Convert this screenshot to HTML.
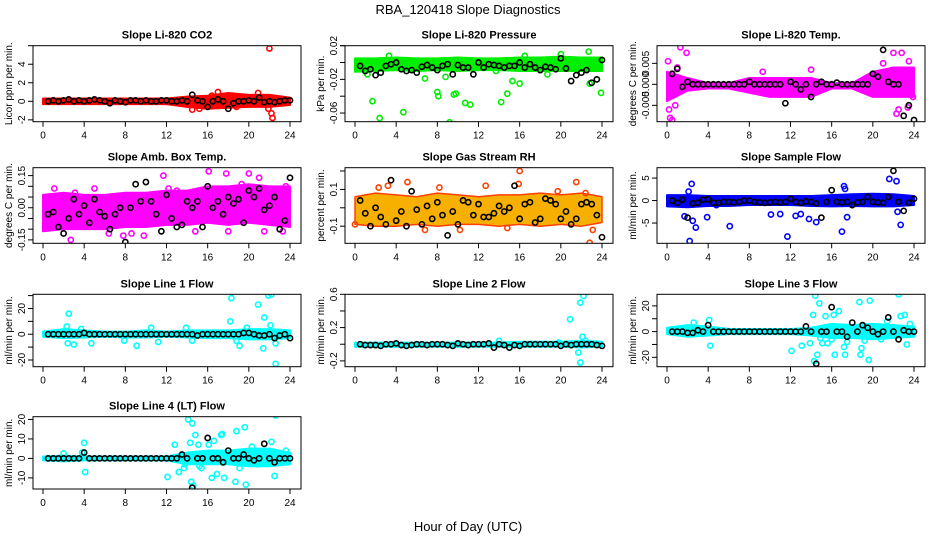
<!DOCTYPE html>
<html><head><meta charset="utf-8"><style>
body{margin:0;background:#fff}
svg text{font-family:"Liberation Sans",sans-serif}
</style></head><body>
<svg id="c" width="936" height="540" xmlns="http://www.w3.org/2000/svg">
<text x="468" y="14" text-anchor="middle" font-size="13">RBA_120418  Slope Diagnostics</text>
<text x="468" y="531" text-anchor="middle" font-size="13">Hour of Day (UTC)</text>
</svg>
<script>
const xTicks=[0,4,8,12,16,20,24];
const blackX=[0.5,1,1.5,2,2.5,3,3.5,4,4.5,5,5.5,6,6.5,7,7.5,8,8.5,9,9.5,10,10.5,11,11.5,12,12.5,13,13.5,14,14.5,15,15.5,16,16.5,17,17.5,18,18.5,19,19.5,20,20.5,21,21.5,22,22.5,23,23.5,24];
const titles=["Slope Li-820 CO2","Slope Li-820 Pressure","Slope Li-820 Temp.","Slope Amb. Box Temp.","Slope Gas Stream RH","Slope Sample Flow","Slope Line 1 Flow","Slope Line 2 Flow","Slope Line 3 Flow","Slope Line 4 (LT) Flow"];
const yLabels=["Licor ppm per min.","kPa per min.","degrees C per min.","degrees C per min.","percent per min.","ml/min per min.","ml/min per min.","ml/min per min.","ml/min per min.","ml/min per min."];
const yLims=[[-2.2,6],[-0.0703,0.02],[-0.0089,0.0092],[-0.166,0.187],[-0.193,0.218],[-9.5,7.3],[-25.2,31],[-0.27,0.6],[-27.3,29],[-15.7,21.4]];
const yTickVals=[[-2,0,2,4],[-0.06,-0.02,0.02],[-0.005,0,0.005],[-0.15,0,0.15],[-0.1,0.1],[-5,0,5],[-20,0,20],[-0.2,0.2,0.6],[-20,0,20],[-10,0,10,20]];
const yTickLabels=[["-2","0","2","4"],["-0.06","-0.02","0.02"],["-0.005","0.000","0.005"],["-0.15","0.00","0.15"],["-0.1","0.1"],["-5","0","5"],["-20","0","20"],["-0.2","0.2","0.6"],["-20","0","20"],["-10","0","10","20"]];
const minorTicks=[[6],[-0.04,0,0.02],[],[-0.1,-0.05,0.05,0.1],[0,0.2],[],[-10,10,30],[0,0.4],[-10,10],[]];
const seriesColor=["#ff0000","#00ee00","#ff00ff","#ff00ff","#f7b000","#0000ff","#00ffff","#00ffff","#00ffff","#00ffff"];
const bandLo=[
[-0.3,-0.3,-0.3,-0.3,-0.3,-0.3,-0.3,-0.6,-0.8,-0.7,-0.6,-0.6,-0.4],
[-0.011,-0.01,-0.009,-0.01,-0.009,-0.01,-0.009,-0.009,-0.01,-0.01,-0.01,-0.01,-0.01],
[-0.004,-0.0015,-0.001,-0.001,-0.002,-0.003,-0.003,-0.003,-0.001,-0.001,-0.003,-0.003,-0.003],
[-0.11,-0.1,-0.1,-0.1,-0.09,-0.09,-0.08,-0.08,-0.07,-0.08,-0.07,-0.08,-0.09],
[-0.09,-0.1,-0.1,-0.09,-0.1,-0.09,-0.09,-0.1,-0.09,-0.1,-0.09,-0.1,-0.08],
[-1.3,-1.5,-1.2,-1.2,-1,-1,-1,-1.2,-1.3,-1.2,-1.3,-1.3,-1],
[-2,-3,-2.5,-2,-2.5,-2.5,-2,-2.5,-3,-3,-4,-4,-3],
[-0.03,-0.03,-0.03,-0.03,-0.03,-0.03,-0.03,-0.03,-0.03,-0.03,-0.03,-0.04,-0.03],
[-2,-4,-3,-2,-2,-2,-2,-3,-5,-5,-6,-5,-4],
[-1,-1.5,-1,-1,-1,-1,-1,-3,-3,-3,-4,-4,-3]];
const bandHi=[
[0.3,0.3,0.3,0.3,0.3,0.3,0.3,0.5,0.6,0.9,0.7,0.7,0.4],
[0.005,0.005,0.006,0.005,0.005,0.006,0.005,0.005,0.006,0.006,0.007,0.006,0.006],
[0.003,0.0015,0.0003,0.0003,0.0015,0.0015,0.0015,0.0015,0.0003,0.0003,0.003,0.004,0.004],
[0.06,0.07,0.06,0.06,0.07,0.07,0.08,0.08,0.1,0.1,0.11,0.1,0.1],
[0.06,0.08,0.07,0.06,0.08,0.07,0.06,0.07,0.07,0.08,0.07,0.08,0.06],
[1.2,1.2,1,1,1,1,1,1,1.2,1.4,1.5,1.4,1],
[2,4,3,2,2,3,2,3,3,3,4,4,3],
[0.02,0.02,0.02,0.02,0.02,0.02,0.02,0.02,0.03,0.03,0.03,0.04,0.03],
[3,5,4,2,2,2,2,3,6,5,6,5,4],
[1,1.5,1,1,1,1,1,3,4,4,5,5,3]];
const outX=[
[22,22.2,22.3,21.9,14.5,17,15.2,18.8,20.9,16.4],
[1.7,2.4,4.7,6.8,8,8.1,8.8,9.2,9.6,9.8,10.7,11.2,14.2,14.8,15.3,16,22.8,23.9,3.3,22.7,16.5,1.2,13.7,18.7,23.5,20],
[0.3,0.5,0.2,0.1,1.3,1.9,22,22.8,22.3,23.4,23.9,14,9.3,0.8,21,23.5,1,22.5],
[2.7,7.8,9.8,11.7,16.1,17.8,20,1.1,14.8,21.5,23.3,3.1,12.2,13,19.3,21,6.4,8.6,18,23.6,0.2,5],
[16,15.9,21.5,22.8,23.1,3.2,5.1,0,2.3,8.2,12.7,19.7,22.4,14.8,6.8,10.2],
[1.7,2.1,2.4,2.5,2.8,2.2,3.9,4.8,6.1,10.1,11,11.7,12.5,13,13.8,14.5,17,17.2,17.3,17.5,21.6,22.3,22.7,22.4],
[2.5,2.4,3,2.3,4.7,7.9,9.1,10.5,11.2,13.9,18.3,18.2,19.1,20.9,21.5,21.9,22.2,21.4,22.6,22.1,22.6,18.8,14.5,3.7,19.8],
[20.9,21.9,22.2,22.1,21.7,21.9,22.4,14,19.8],
[2.6,4.1,4.2,12.1,13.1,13.9,14.2,14.4,14.6,14.3,14.8,14.9,15.4,15.6,16.2,16.3,16.7,17.2,17.3,17.5,18.7,18.8,18.9,19.7,19.6,21.4,22.5,22.7,23.1,23.3,23.6,20.8,19.2,16,15.1],
[4,4.1,3.8,12.1,12.8,13.2,13.7,14.1,14.4,14.5,14.6,14.8,14.3,15.1,15.4,16.1,16.4,16.6,16.9,17.3,17.6,17.4,18.7,18.8,19.1,19.6,19.7,20.3,20.8,22.2,22.6,22.5,23.6,15.2,13.8,2]];
const outY=[
[5.7,-1.3,-1.8,-0.8,-0.9,1.0,-0.8,-0.6,0.9,0.6],
[-0.046,-0.066,-0.059,-0.019,-0.035,-0.04,-0.017,-0.071,-0.038,-0.037,-0.048,-0.05,-0.047,-0.037,-0.022,-0.025,-0.025,-0.036,0.008,0.013,0.008,-0.014,-0.01,-0.014,-0.02,0.01],
[-0.008,-0.0085,-0.006,0.0055,0.0088,0.0075,0.0075,0.0075,-0.007,-0.0055,-0.003,0.0035,0.003,-0.005,0.005,0.0055,0.004,-0.006],
[-0.15,-0.13,-0.13,0.15,0.17,0.16,0.16,0.09,-0.11,-0.11,-0.11,0.07,0.09,0.08,0.11,0.14,-0.12,-0.12,-0.11,0.1,-0.09,0.09],
[0.2,0.13,0.14,-0.19,-0.12,0.12,0.14,-0.09,0.11,0.11,0.12,0.09,0.08,-0.11,-0.12,-0.12],
[-3.5,2,3.7,-4.5,-6,-9,-3.7,-1,-5.7,-3.1,-3,-8,-3.4,-3,-4.1,-4.8,-6.9,3.2,2.6,-3.7,4.8,4.3,-5.4,-2.5],
[16,-7,-8,6,-7,-5,-9,5,-6,5,28,10,-9,23,13,30,31,-11,-23,7,-7,-5,-5,4,5],
[0.3,0.5,0.58,0.09,-0.1,-0.22,0.04,0.04,0.02],
[7,9,-11,-15,-11,-9,13,28,-18,-23,22,-5,12,-9,13,-18,16,-12,-18,-8,23,-18,-13,24,-22,8,29,12,13,-10,6,-6,-7,-6,-9],
[8,-7,3,-9.5,7,-7,-5,20,-12,18,-14,12,8,7,-5,7,-10,9,-8,12,-10,12.5,-12,14,-5,16,-13.5,6,-3,8.5,22,-9,4,-4,-3,2.5]];
const blackY=[
[0,0.1,0,0.1,0.2,0,0.1,0,0.1,0.2,0.1,0,-0.2,0.1,0,-0.1,0.1,0.1,0,0.1,0,0,0.1,0.1,0,0,0.1,0,0.7,0.1,0,-0.6,0,0.2,0,-0.8,-0.2,0,0,0.1,0,0.4,-0.1,0,-0.1,0,0.1,0.1],
[-0.004,-0.01,-0.008,-0.015,-0.012,-0.004,-0.002,0,-0.008,-0.01,-0.009,-0.012,-0.005,-0.003,-0.006,-0.009,-0.004,-0.002,-0.014,-0.003,-0.006,-0.006,-0.014,0,-0.006,-0.002,-0.003,-0.004,-0.006,-0.004,-0.004,0,-0.006,-0.002,-0.006,-0.009,-0.005,-0.006,-0.008,0.005,-0.007,-0.022,-0.015,-0.012,-0.009,-0.024,-0.02,0.003],
[0.0025,0.0037,-0.0006,0.0006,0,0,0,0,0,0,0,0,0,0,0,0.0006,0,0,0,0,0,0,-0.0045,0.0006,0,-0.0012,0,-0.003,0,0.0006,0,0,0.0004,0,0,0,0,0,0,0.0025,0.0018,0.0082,0.0006,0,0,-0.0075,-0.005,-0.0085],
[-0.03,-0.02,-0.09,-0.12,-0.05,0.04,-0.03,0.01,-0.07,0.04,-0.02,-0.04,-0.1,-0.03,0,-0.16,0,0.11,0.03,0.12,0.03,-0.03,-0.11,0.06,-0.05,-0.09,-0.08,0.03,0,0.03,-0.09,0.1,0,0.03,-0.03,0.05,0.02,0.04,-0.07,0.08,0.05,0.09,-0.01,0.01,0.05,-0.1,-0.06,0.14],
[0.04,-0.03,-0.1,0,-0.05,-0.09,0.15,-0.07,-0.02,-0.1,0.09,-0.01,-0.09,0.01,-0.06,0.03,-0.04,-0.15,-0.02,-0.09,0.04,0.03,-0.04,0.02,-0.05,-0.05,-0.03,0.01,-0.02,0,0.12,-0.06,0.02,0.03,-0.08,-0.06,0.05,0.04,0.02,-0.06,-0.02,-0.09,-0.06,0.02,0.03,0.02,-0.04,-0.16],
[0,-0.5,0.2,-3.8,-0.6,-0.5,0.2,0.3,-0.5,-0.5,-0.3,-0.3,-0.4,-0.3,0,0,-0.3,-0.4,-0.5,-0.4,-0.3,-0.4,-0.3,0.4,-0.3,-0.5,-0.2,-0.3,-0.6,-3.8,-0.3,2.3,-0.3,-0.4,-0.3,-1,-0.4,-0.3,0.8,-0.3,-0.4,-0.5,0.8,6.6,-0.3,-2.3,-0.5,0.4],
[0,0,0,0,0,0,0,1,0,0,0,0,0,0,0,0,0,0,0,0,0,0,0,0,0,0,0,0,0,-1,0,0,0,0,0,0,0,0,1,1,0,-1,-1,0,-3,-1,0,-3],
[0,-0.01,-0.01,-0.01,-0.02,0,0,0.01,-0.01,-0.02,-0.01,0,0,-0.01,0,0,0,-0.01,-0.02,0.01,0,-0.01,0,0,0,0.01,-0.04,0,-0.01,-0.04,-0.01,-0.02,0,0,0,0,0,0,0,-0.02,0,-0.01,0,0,0,0,-0.01,-0.02],
[0,0,0,-1,-1,1,0,5,0,0,0,0,0,0,0,0,0,0,0,0,0,0,0,0,0,0,4,0,-25,0,0,19,0,0,-4,7,0,5,3,0,-2,0,11,0,-6,1,0,0],
[0,0,0,0,0,0,0,3,0,0,0,0,0,0,0,0,0,0,0,0,0,0,0,0,0,0,2,0,-15,0,0,10.5,0,0,-2,4,0,0,2,0,-1,0,7.5,0,-2,0,0,0]];

const svg=document.getElementById('c');
const NS='http://www.w3.org/2000/svg';
const colLeft=[33,345,657], colW=268;
const rowTop=[45.7,167.7,294.3,416.7], rowBot=[121.7,243.3,366.7,489];
function mk(tag,attrs,parent){const e=document.createElementNS(NS,tag);for(const k in attrs)e.setAttribute(k,attrs[k]);(parent||svg).appendChild(e);return e;}
titles.forEach((t,p)=>{
  const c=p%3, r=Math.floor(p/3);
  const L=colLeft[c], R=L+colW, T=rowTop[r], B=rowBot[r];
  const x0=L+10, x24=L+257;
  const sx=v=>x0+(x24-x0)*v/24;
  const [y0,y1]=yLims[p];
  const sy=v=>B-(B-T)*(v-y0)/(y1-y0);
  const g=mk('g',{});
  
  
  const cp=mk('clipPath',{id:'cp'+p},g);mk('rect',{x:L,y:T,width:colW,height:B-T},cp);
  const tt=mk('text',{x:(L+R)/2,y:T-7,'text-anchor':'middle','font-size':11,'font-weight':'bold'},g);tt.textContent=t;
  
  
  const yl=mk('text',{transform:`translate(${L-21},${(T+B)/2}) rotate(-90)`,'text-anchor':'middle','font-size':10},g);yl.textContent=yLabels[p];
  
  
  const pl=mk('g',{'clip-path':`url(#cp${p})`},g);
  let pts=[];
  bandHi[p].forEach((v,i)=>pts.push(sx(i*2)+','+sy(v)));
  for(let i=bandLo[p].length-1;i>=0;i--)pts.push(sx(i*2)+','+sy(bandLo[p][i]));
  const col=seriesColor[p];
  const band=mk('polygon',{points:pts.join(' '),fill:col,stroke:p==4?'#ff4000':col,'stroke-width':p==4?1.5:2,'stroke-linejoin':'round'},pl);
  
  
  outX[p].forEach((x,i)=>{
    const e=mk('circle',{cx:sx(x),cy:sy(outY[p][i]),r:2.6,fill:'none',stroke:p==4?'#ff4000':col,'stroke-width':1.6},pl);
    
    
  });
  blackX.forEach((x,i)=>{
    const e=mk('circle',{cx:sx(x),cy:sy(blackY[p][i]),r:2.6,fill:'none',stroke:'#000','stroke-width':1.6},pl);
    
    
  });
  const box=mk('rect',{x:L,y:T,width:colW,height:B-T,fill:'none',stroke:'#000','stroke-width':1},g);
  
  
  xTicks.forEach(v=>{
    mk('line',{x1:sx(v),x2:sx(v),y1:B,y2:B+5,stroke:'#000'},g);
    const e=mk('text',{x:sx(v),y:B+17,'text-anchor':'middle','font-size':10},g);e.textContent=v;
    
    
  });
  yTickVals[p].forEach((v,i)=>{
    mk('line',{x1:L,x2:L-5,y1:sy(v),y2:sy(v),stroke:'#000'},g);
    const e=mk('text',{transform:`translate(${L-8},${sy(v)}) rotate(-90)`,'text-anchor':'middle','font-size':10},g);e.textContent=yTickLabels[p][i];
    
    
  });
  minorTicks[p].forEach(v=>{ if(v>=y0&&v<=y1) mk('line',{x1:L,x2:L-5,y1:sy(v),y2:sy(v),stroke:'#000'},g);});
});
</script>
</body></html>
